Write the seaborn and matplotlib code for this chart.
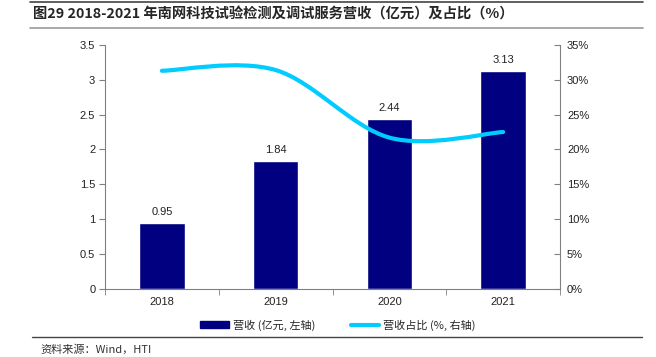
import numpy as np
import pandas as pd
import seaborn as sns
import matplotlib.pyplot as plt
from matplotlib.path import Path
from matplotlib.patches import PathPatch
from matplotlib.lines import Line2D
from matplotlib.patches import Patch

# chart data
years = ['2018', '2019', '2020', '2021']
revenue = [0.95, 1.84, 2.44, 3.13]          # 亿元, left axis
share = [31.3, 31.4, 21.7, 22.5]            # %, right axis

title = '图29 2018-2021 年南网科技试验检测及调试服务营收（亿元）及占比（%）'
source = '资料来源：Wind，HTI'

sns.set_style('white')
plt.rcParams['font.family'] = ['Liberation Sans', 'Noto Sans CJK SC', 'DejaVu Sans']

bar_color = '#000080'
line_color = '#00CCFF'
axis_gray = '#808080'

fig = plt.figure(figsize=(6.56, 3.57), dpi=100)
ax = fig.add_axes([105 / 656, 1 - 288.7 / 357, 455 / 656, (288.7 - 45) / 357])

df = pd.DataFrame({'year': years, 'revenue': revenue})
sns.barplot(data=df, x='year', y='revenue', color=bar_color, width=0.4,
            saturation=1, ax=ax, zorder=2)

ax.set_xlim(-0.5, 3.5)
ax.set_ylim(0, 3.5)
ax.set_yticks(np.arange(0, 3.51, 0.5))
ax.set_yticklabels(['0', '0.5', '1', '1.5', '2', '2.5', '3', '3.5'])
ax.set_xlabel('')
ax.set_ylabel('')

# value labels
for i, v in enumerate(revenue):
    ax.text(i, v + 0.08, f'{v:.2f}', ha='center', va='bottom', fontsize=8, color='#222222')

# right axis with smoothed share line
ax2 = ax.twinx()
ax2.set_ylim(0, 35)
ax2.set_yticks(np.arange(0, 36, 5))
ax2.set_yticklabels([f'{t}%' for t in range(0, 36, 5)])

# smoothed line (Catmull-Rom style bezier, like Excel's smoothed line)
xs = np.arange(len(share), dtype=float)
ys = np.array(share)
verts = [(xs[0], ys[0])]
codes = [Path.MOVETO]
for i in range(len(xs) - 1):
    p0 = (xs[max(i - 1, 0)], ys[max(i - 1, 0)])
    p1 = (xs[i], ys[i])
    p2 = (xs[i + 1], ys[i + 1])
    p3 = (xs[min(i + 2, len(xs) - 1)], ys[min(i + 2, len(xs) - 1)])
    c1 = (p1[0] + (p2[0] - p0[0]) / 6, p1[1] + (p2[1] - p0[1]) / 6)
    c2 = (p2[0] - (p3[0] - p1[0]) / 6, p2[1] - (p3[1] - p1[1]) / 6)
    verts += [c1, c2, p2]
    codes += [Path.CURVE4] * 3
ax2.add_patch(PathPatch(Path(verts, codes), facecolor='none', edgecolor=line_color,
                        lw=3, capstyle='round', zorder=3))

# axis styling
for a in (ax, ax2):
    for s in ('top', 'left', 'right', 'bottom'):
        a.spines[s].set_visible(False)
ax.spines['left'].set_visible(True)
ax.spines['left'].set_color(axis_gray)
ax.spines['bottom'].set_visible(True)
ax.spines['bottom'].set_color(axis_gray)
ax2.spines['right'].set_visible(True)
ax2.spines['right'].set_color(axis_gray)

ax.tick_params(axis='y', direction='out', length=4, color=axis_gray, labelsize=8,
               labelcolor='#222222', left=True, pad=3)
ax.tick_params(axis='x', length=0, labelsize=8, labelcolor='#222222', pad=6)
ax.set_xticks([-0.5, 0.5, 1.5, 2.5, 3.5], minor=True)
ax.tick_params(axis='x', which='minor', direction='out', length=4, color=axis_gray, bottom=True)
ax2.tick_params(axis='y', direction='in', length=4, color=axis_gray, labelsize=8,
                labelcolor='#222222', right=True, pad=5)
ax.grid(False)
ax2.grid(False)

# legend
handles = [Patch(facecolor=bar_color, edgecolor=bar_color),
           Line2D([0], [0], color=line_color, lw=3)]
labels = ['营收 (亿元, 左轴)', '营收占比 (%, 右轴)']
fig.legend(handles, labels, loc='center', bbox_to_anchor=(0.515, 1 - 325 / 357), ncol=2,
           frameon=False, handlelength=2.6, handleheight=0.5,
           columnspacing=3.2, handletextpad=0.3,
           prop={'family': ['Noto Sans CJK SC', 'DejaVu Sans'], 'size': 8})

# header / footer
fig.text(33 / 656, 1 - 15 / 357, title, ha='left', va='center', fontsize=10.3,
         fontweight='bold', family=['Noto Sans CJK SC', 'DejaVu Sans'])
fig.add_artist(Line2D([30 / 656, 643 / 656], [1 - 2 / 357] * 2, color='#444444', lw=1.2))
fig.add_artist(Line2D([30 / 656, 643 / 656], [1 - 28 / 357] * 2, color='#999999', lw=1.2))
fig.add_artist(Line2D([32 / 656, 642 / 656], [1 - 337 / 357] * 2, color='#444444', lw=1.0))
fig.text(40 / 656, 1 - 349 / 357, source, ha='left', va='center', fontsize=8,
         color='#333333', family=['Noto Sans CJK SC', 'DejaVu Sans'])

fig.savefig('out.png', dpi=100)
